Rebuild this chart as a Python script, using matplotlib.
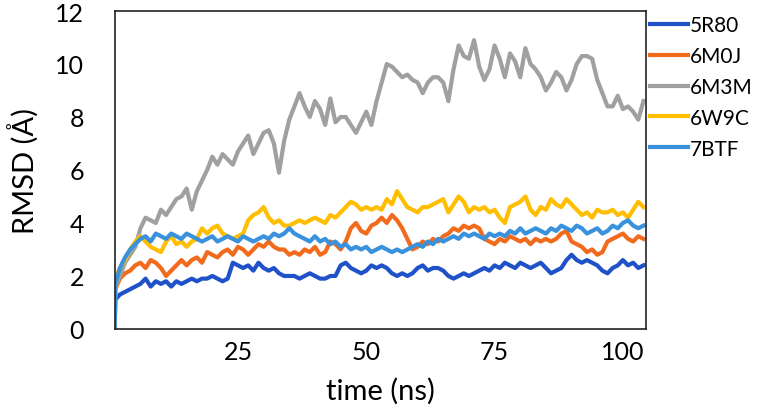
import matplotlib
matplotlib.use("Agg")
import matplotlib.pyplot as plt

plt.rcParams["font.family"] = ["Lato", "DejaVu Sans"]

# time axis (ns) and RMSD (Å)
time_ns = [1.0, 1.1] + list(range(2, 105))

rmsd_5r80 = [0, 1.1, 1.3, 1.4, 1.5, 1.6, 1.7, 1.9, 1.6, 1.8, 1.7,
             1.8, 1.6, 1.8, 1.7, 1.8, 1.9, 1.8, 1.9, 1.9, 2.0,
             1.9, 1.8, 1.9, 2.5, 2.4, 2.3, 2.4, 2.2, 2.5, 2.3,
             2.2, 2.3, 2.1, 2.0, 2.0, 2.0, 1.9, 2.0, 2.1, 2.0,
             1.9, 1.9, 2.0, 2.0, 2.4, 2.5, 2.3, 2.2, 2.1, 2.2,
             2.4, 2.3, 2.4, 2.3, 2.1, 2.0, 2.1, 2.0, 2.1, 2.3,
             2.4, 2.2, 2.3, 2.3, 2.2, 2.0, 1.9, 2.0, 2.1, 2.0,
             2.1, 2.2, 2.3, 2.2, 2.4, 2.3, 2.5, 2.4, 2.3, 2.5,
             2.4, 2.3, 2.4, 2.5, 2.3, 2.1, 2.2, 2.3, 2.6, 2.8,
             2.6, 2.5, 2.6, 2.5, 2.4, 2.2, 2.1, 2.3, 2.4, 2.6,
             2.4, 2.5, 2.3, 2.4]

rmsd_6m0j = [0, 1.5, 1.9, 2.1, 2.2, 2.4, 2.5, 2.3, 2.6, 2.5, 2.3,
             2.0, 2.2, 2.4, 2.6, 2.4, 2.6, 2.7, 2.5, 2.9, 2.8,
             2.7, 2.9, 3.0, 2.8, 3.1, 3.0, 2.8, 3.0, 3.2, 3.1,
             3.3, 3.1, 3.0, 3.0, 2.8, 2.9, 2.8, 3.0, 2.9, 3.1,
             2.8, 2.9, 3.3, 3.2, 3.0, 3.3, 3.8, 4.0, 3.7, 3.6,
             3.9, 4.0, 4.2, 4.0, 4.3, 4.1, 3.8, 3.4, 3.0, 3.1,
             3.3, 3.2, 3.4, 3.3, 3.5, 3.6, 3.8, 3.7, 3.9, 3.8,
             3.9, 3.8, 3.4, 3.3, 3.2, 3.4, 3.3, 3.5, 3.4, 3.3,
             3.4, 3.2, 3.4, 3.3, 3.4, 3.3, 3.4, 3.6, 3.7, 3.3,
             3.2, 3.1, 2.9, 3.0, 2.8, 2.9, 3.3, 3.4, 3.5, 3.6,
             3.4, 3.3, 3.5, 3.4]

rmsd_6m3m = [0, 1.6, 2.0, 2.5, 2.8, 3.1, 3.8, 4.2, 4.1, 4.0, 4.5,
             4.3, 4.6, 4.9, 5.0, 5.3, 4.5, 5.2, 5.6, 6.0, 6.5,
             6.2, 6.6, 6.4, 6.2, 6.7, 7.0, 7.3, 6.6, 7.0, 7.4,
             7.5, 7.0, 5.9, 7.1, 7.9, 8.4, 8.9, 8.4, 8.0, 8.6,
             8.3, 7.7, 8.7, 7.8, 8.0, 8.0, 7.7, 7.4, 7.8, 8.2,
             7.7, 8.6, 9.3, 10.0, 9.9, 9.7, 9.5, 9.6, 9.4, 9.3,
             8.9, 9.3, 9.5, 9.5, 9.3, 8.6, 9.8, 10.7, 10.3, 10.2,
             10.9, 9.9, 9.4, 9.8, 10.7, 10.2, 9.5, 10.4, 10.1, 9.5,
             10.6, 10.0, 9.8, 9.5, 9.0, 9.3, 9.7, 9.5, 9.0, 9.4,
             10.0, 10.3, 10.3, 10.2, 9.4, 8.9, 8.4, 8.4, 8.8, 8.3,
             8.4, 8.2, 7.9, 8.6]

rmsd_6w9c = [0, 1.9, 2.3, 2.6, 3.0, 3.3, 3.5, 3.3, 3.1, 3.0, 2.9,
             3.3, 3.5, 3.2, 3.3, 3.1, 3.3, 3.4, 3.8, 3.6, 3.8,
             3.9, 3.6, 3.5, 3.4, 3.5, 3.6, 4.1, 4.3, 4.4, 4.6,
             4.2, 4.0, 4.1, 3.9, 3.9, 4.0, 4.1, 4.0, 4.1, 4.2,
             4.1, 4.0, 4.3, 4.2, 4.4, 4.6, 4.8, 4.7, 4.5, 4.6,
             4.5, 4.6, 4.5, 4.9, 4.7, 5.2, 4.9, 4.6, 4.5, 4.4,
             4.6, 4.6, 4.7, 4.8, 4.9, 4.4, 4.7, 5.0, 4.8, 4.4,
             4.6, 4.5, 4.6, 4.4, 4.5, 4.2, 4.0, 4.6, 4.7, 4.8,
             5.0, 4.5, 4.3, 4.6, 4.5, 4.9, 4.7, 4.6, 4.9, 4.7,
             4.5, 4.3, 4.4, 4.2, 4.5, 4.4, 4.4, 4.5, 4.3, 4.4,
             4.2, 4.5, 4.8, 4.6]

rmsd_7btf = [0, 1.7, 2.3, 2.7, 3.0, 3.2, 3.4, 3.5, 3.3, 3.6, 3.5,
             3.4, 3.6, 3.5, 3.4, 3.6, 3.5, 3.4, 3.3, 3.4, 3.5,
             3.3, 3.4, 3.5, 3.4, 3.3, 3.5, 3.4, 3.3, 3.4, 3.5,
             3.4, 3.6, 3.5, 3.6, 3.8, 3.6, 3.5, 3.4, 3.3, 3.5,
             3.3, 3.4, 3.2, 3.3, 3.1, 3.2, 3.0, 3.1, 3.0, 3.1,
             2.9, 3.0, 3.1, 3.0, 2.9, 3.0, 2.9, 3.0, 3.1, 3.2,
             3.1, 3.3, 3.2, 3.4, 3.3, 3.4, 3.5, 3.4, 3.6, 3.5,
             3.6, 3.5, 3.4, 3.6, 3.5, 3.6, 3.5, 3.7, 3.6, 3.8,
             3.6, 3.7, 3.8, 3.7, 3.6, 3.8, 3.7, 3.9, 3.8, 3.7,
             3.9, 3.8, 3.6, 3.7, 3.8, 3.6, 3.7, 3.9, 3.8, 4.0,
             4.1, 3.9, 3.8, 3.9]

names = ["5R80", "6M0J", "6M3M", "6W9C", "7BTF"]
colors = ["#1f52c8", "#f26a1b", "#a0a0a0", "#ffbf00", "#3b92dc"]
series = [rmsd_5r80, rmsd_6m0j, rmsd_6m3m, rmsd_6w9c, rmsd_7btf]

fig = plt.figure(figsize=(7.6, 4.14), dpi=100)
ax = fig.add_axes([0.151, 0.203, 0.699, 0.768])

for name, col, vals in zip(names, colors, series):
    ax.plot(time_ns, vals, color=col, lw=3.0, label=name)

ax.set_xlim(1, 104.5)
ax.set_ylim(0, 12)
ax.set_xticks([25, 50, 75, 100])
ax.set_yticks(range(0, 13, 2))
ax.tick_params(axis="y", length=0, labelsize=18, pad=22)
ax.tick_params(axis="x", length=0, labelsize=18, pad=8)
for sp in ax.spines.values():
    sp.set_color("#222222")
    sp.set_linewidth(1.2)

ax.set_xlabel("time (ns)", fontsize=21, labelpad=10)
ax.set_ylabel("RMSD (Å)", fontsize=21, labelpad=12)

ax.legend(loc="upper left", bbox_to_anchor=(1.0, 1.0), frameon=False,
          fontsize=15, handlelength=1.8, handletextpad=0.1,
          labelspacing=0.52, borderaxespad=0.1, borderpad=0.1)

fig.savefig("out.png", dpi=100)
